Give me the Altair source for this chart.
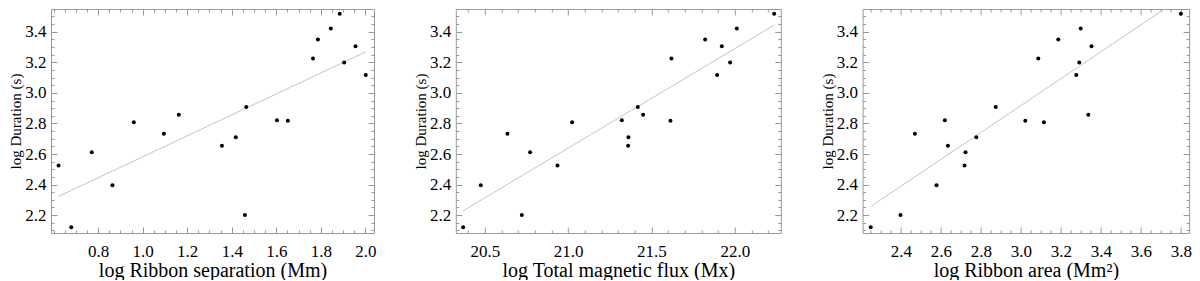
import altair as alt
import pandas as pd

# log Duration (s) for the 20 events
duration = [2.525, 2.120, 2.612, 2.396, 2.808, 2.732, 2.857, 2.654, 2.709, 2.908,
            2.200, 2.821, 2.817, 3.225, 3.349, 3.421, 3.518, 3.199, 3.305, 3.117]
# log Ribbon separation (Mm)
separation = [0.622, 0.679, 0.771, 0.864, 0.960, 1.095, 1.162, 1.356, 1.418, 1.465,
              1.459, 1.603, 1.652, 1.765, 1.787, 1.845, 1.885, 1.905, 1.956, 2.002]
# log Total magnetic flux (Mx)
flux = [20.936, 20.370, 20.772, 20.476, 21.024, 20.636, 21.450, 21.360, 21.362, 21.418,
        20.722, 21.322, 21.614, 21.620, 21.822, 22.012, 22.236, 21.972, 21.922, 21.894]
# log Ribbon area (Mm^2)
area = [2.718, 2.249, 2.723, 2.578, 3.115, 2.470, 3.337, 2.635, 2.777, 2.874,
        2.398, 2.620, 3.022, 3.087, 3.187, 3.299, 3.800, 3.292, 3.353, 3.277]

df = pd.DataFrame({"duration": duration, "separation": separation,
                   "flux": flux, "area": area})

y_domain = [2.083, 3.549]
y_major = [2.2, 2.4, 2.6, 2.8, 3.0, 3.2, 3.4]
y_minor = [v for v in [round(2.10 + 0.05 * i, 2) for i in range(29)] if v not in y_major]

sep_major = [0.8, 1.0, 1.2, 1.4, 1.6, 1.8, 2.0]
sep_minor = [v for v in [round(0.60 + 0.05 * i, 2) for i in range(29)] if v not in sep_major]
flux_major = [20.5, 21.0, 21.5, 22.0]
flux_minor = [v for v in [round(20.4 + 0.1 * i, 1) for i in range(19)] if v not in flux_major]
area_major = [2.4, 2.6, 2.8, 3.0, 3.2, 3.4, 3.6, 3.8]
area_minor = [v for v in [round(2.25 + 0.05 * i, 2) for i in range(32)] if v not in area_major]

FONT = "Liberation Serif"
GRAY = "#999999"


def label_axis(orient, values, title):
    left = orient == "left"
    return alt.Axis(
        orient=orient, values=values, grid=False,
        domainColor=GRAY, domainWidth=1, tickColor="transparent", tickWidth=1,
        labelFont=FONT, labelFontSize=17, labelColor="black",
        titleFont=FONT, titleFontSize=15 if left else 20,
        titleFontWeight="normal", titleColor="black",
        labelExpr="format(datum.value, '.1f')",
        labelPadding=0 if left else 5, titlePadding=1, labelOverlap=False,
        title=title,
    )


def frame_axis(orient, values):
    return alt.Axis(orient=orient, values=values, grid=False, ticks=False, labels=False,
                    domainColor=GRAY, domainWidth=1, title=None)


def tick_axis(orient, values, size):
    return alt.Axis(orient=orient, values=values, grid=False, domain=False, labels=False,
                    ticks=True, tickSize=size, offset=-size, tickColor=GRAY, tickWidth=1,
                    title=None)


def panel(field, xtitle, xdomain, xmajor, xminor, width):
    xs = alt.Scale(domain=xdomain, nice=False, zero=False)
    ys = alt.Scale(domain=y_domain, nice=False, zero=False)
    base = alt.Chart(df)

    def enc(xaxis, yaxis):
        return dict(x=alt.X(f"{field}:Q", scale=xs, axis=xaxis),
                    y=alt.Y("duration:Q", scale=ys, axis=yaxis))

    line = base.transform_regression(field, "duration").mark_line(
        color="#c4c4c4", strokeWidth=1, clip=True
    ).encode(**enc(frame_axis("top", xmajor), frame_axis("right", y_major)))
    pts = base.mark_circle(size=16, color="black", opacity=1).encode(
        **enc(label_axis("bottom", xmajor, xtitle),
              label_axis("left", y_major, "log Duration (s)")))
    t1 = base.mark_point(opacity=0).encode(**enc(tick_axis("bottom", xmajor, 6), tick_axis("left", y_major, 6)))
    t2 = base.mark_point(opacity=0).encode(**enc(tick_axis("bottom", xminor, 3), tick_axis("left", y_minor, 3)))
    t3 = base.mark_point(opacity=0).encode(**enc(tick_axis("top", xmajor, 6), tick_axis("right", y_major, 6)))
    t4 = base.mark_point(opacity=0).encode(**enc(tick_axis("top", xminor, 3), tick_axis("right", y_minor, 3)))
    return alt.layer(line, pts, t1, t2, t3, t4).resolve_axis(
        x="independent", y="independent").properties(width=width, height=224)


p1 = panel("separation", "log Ribbon separation (Mm)", [0.588, 2.039], sep_major, sep_minor, 323)
p2 = panel("flux", "log Total magnetic flux (Mx)", [20.326, 22.276], flux_major, flux_minor, 325)
p3 = panel("area", "log Ribbon area (Mm²)", [2.2085, 3.841], area_major, area_minor, 326.5)

chart = alt.hconcat(p1, p2, p3, spacing=81.8, bounds="flush").properties(
    padding={"left": 0, "top": 0, "right": 0, "bottom": 0}
).configure_view(stroke=None).configure_axis(
    labelFont=FONT, labelFontSize=17, labelColor="black",
    titleFont=FONT, titleFontSize=18, titleFontWeight="normal", titleColor="black",
)

chart.save("out.html", embed_options={"renderer": "svg", "actions": False})
